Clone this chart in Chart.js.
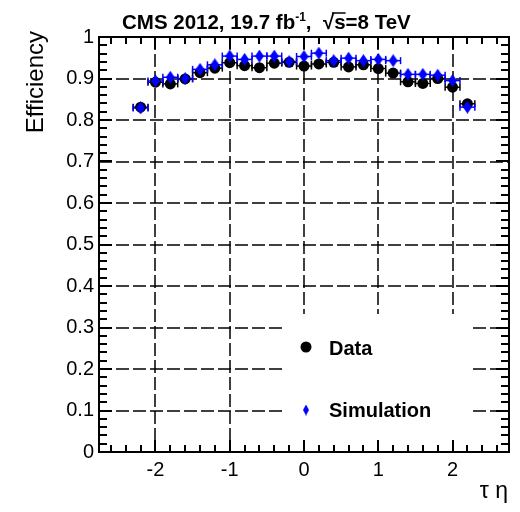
<!DOCTYPE html>
<html>
<head>
<meta charset="utf-8">
<script src="https://cdn.jsdelivr.net/npm/chart.js@4.4.1/dist/chart.umd.min.js"></script>
<style>
  html, body { margin: 0; padding: 0; background: #fff; }
  canvas { display: block; }
</style>
</head>
<body>
<canvas id="eff" width="520" height="512"></canvas>
<script>
// Tau identification efficiency versus tau pseudorapidity
const etaBins = [-2.2, -2.0, -1.8, -1.6, -1.4, -1.2, -1.0, -0.8, -0.6, -0.4, -0.2, 0.0,
                 0.2, 0.4, 0.6, 0.8, 1.0, 1.2, 1.4, 1.6, 1.8, 2.0, 2.2];
const etaHalfWidth = 0.1;

const dataEff = [0.831, 0.891, 0.887, 0.899, 0.914, 0.925, 0.938, 0.931, 0.926, 0.937, 0.939, 0.930,
                 0.935, 0.939, 0.928, 0.933, 0.924, 0.913, 0.892, 0.888, 0.900, 0.879, 0.839];
const dataErr = [0.005, 0.004, 0.004, 0.004, 0.004, 0.004, 0.004, 0.004, 0.004, 0.004, 0.004, 0.004,
                 0.004, 0.004, 0.004, 0.004, 0.004, 0.004, 0.004, 0.004, 0.004, 0.004, 0.005];

const simEff = [0.829, 0.894, 0.903, 0.900, 0.922, 0.933, 0.954, 0.946, 0.954, 0.954, 0.941, 0.953,
                0.961, 0.943, 0.949, 0.943, 0.946, 0.943, 0.910, 0.910, 0.908, 0.895, 0.831];
const simErr = [0.003, 0.002, 0.002, 0.002, 0.002, 0.002, 0.002, 0.002, 0.002, 0.002, 0.002, 0.002,
                0.002, 0.002, 0.002, 0.002, 0.002, 0.002, 0.002, 0.002, 0.002, 0.002, 0.003];

const xTickValues = [-2, -1, 0, 1, 2];
const yTickValues = [0, 0.1, 0.2, 0.3, 0.4, 0.5, 0.6, 0.7, 0.8, 0.9, 1];
const xMinorStep = 0.2;
const yMinorStep = 0.02;

const seriesNames = ['Data', 'Simulation'];
const titleParts = { main: 'CMS 2012, 19.7 fb', sup: '-1', energy: '=8 TeV' };
const yTitle = 'Efficiency';
const xTitle = 'τ η';

const FONT = '"Liberation Sans", Arial, Helvetica, sans-serif';
const BLUE = '#0000ff';

function diamond(w, h, color) {
  const c = document.createElement('canvas');
  c.width = w; c.height = h;
  const g = c.getContext('2d');
  g.fillStyle = color;
  g.beginPath();
  g.moveTo(w / 2, 0); g.lineTo(w, h / 2); g.lineTo(w / 2, h); g.lineTo(0, h / 2);
  g.closePath(); g.fill();
  return c;
}
const simMarker = diamond(9, 13, BLUE);
const simLegendMarker = diamond(6, 11, BLUE);

function line(ctx, x0, y0, x1, y1) {
  ctx.beginPath(); ctx.moveTo(x0, y0); ctx.lineTo(x1, y1); ctx.stroke();
}

// legend box area (pixels inside the frame)
const legendBox = { x0: 282, y0: 314, x1: 472, y1: 445 };

// inward tick marks on all four sides of the frame
function drawTicks(ctx, area, xs, ys) {
  const { left, right, top, bottom } = area;
  ctx.fillStyle = '#000';
  const nx = Math.round(2.6 / xMinorStep);
  for (let k = -nx; k <= nx; k++) {
    const px = Math.round(xs.getPixelForValue(k * xMinorStep));
    const len = (Math.abs(k) % 5 === 0) ? 12 : 7;
    ctx.fillRect(px - 1, bottom - len, 2, len);
    ctx.fillRect(px - 1, top, 2, len);
  }
  const ny = Math.round(1 / yMinorStep);
  for (let k = 0; k <= ny; k++) {
    const py = Math.round(ys.getPixelForValue(k * yMinorStep));
    const len = (k % 5 === 0) ? 13 : 8;
    ctx.fillRect(left, py - 1, len, 2);
    ctx.fillRect(right - len, py - 1, len, 2);
  }
}

const rootStyle = {
  id: 'rootStyle',
  beforeDatasetsDraw(chart) {
    const ctx = chart.ctx;
    const { left, right, top, bottom } = chart.chartArea;
    const xs = chart.scales.x, ys = chart.scales.y;
    ctx.save();
    // dashed grid at major ticks
    ctx.strokeStyle = '#000';
    ctx.lineWidth = 1.5;
    ctx.setLineDash([13, 4]);
    xTickValues.forEach(v => {
      const px = Math.round(xs.getPixelForValue(v));
      line(ctx, px, top, px, bottom);
    });
    yTickValues.forEach(v => {
      if (v <= 0 || v >= 1) return;
      const py = Math.round(ys.getPixelForValue(v));
      line(ctx, left, py, right, py);
    });
    ctx.setLineDash([]);
    // legend background
    ctx.fillStyle = '#fff';
    ctx.fillRect(legendBox.x0, legendBox.y0, legendBox.x1 - legendBox.x0, legendBox.y1 - legendBox.y0);

    // error bars with end caps
    const sets = [
      { vals: dataEff, errs: dataErr, color: '#000' },
      { vals: simEff, errs: simErr, color: BLUE }
    ];
    sets.forEach(s => {
      ctx.strokeStyle = s.color;
      ctx.lineWidth = 1.5;
      etaBins.forEach((eta, i) => {
        const xc = xs.getPixelForValue(eta);
        const x0 = xs.getPixelForValue(eta - etaHalfWidth);
        const x1 = xs.getPixelForValue(eta + etaHalfWidth);
        const yc = ys.getPixelForValue(s.vals[i]);
        const yt = ys.getPixelForValue(s.vals[i] + s.errs[i]);
        const yb = ys.getPixelForValue(s.vals[i] - s.errs[i]);
        line(ctx, x0, yc, x1, yc);
        line(ctx, x0, yc - 3.5, x0, yc + 3.5);
        line(ctx, x1, yc - 3.5, x1, yc + 3.5);
        line(ctx, xc, yt, xc, yb);
      });
    });
    drawTicks(ctx, chart.chartArea, xs, ys);
    ctx.restore();
  },
  afterDatasetsDraw(chart) {
    const ctx = chart.ctx;
    const { left, right, top, bottom } = chart.chartArea;
    ctx.save();
    ctx.setLineDash([]);
    ctx.strokeStyle = '#000';
    ctx.fillStyle = '#000';
    ctx.lineWidth = 2;
    ctx.strokeRect(left, top, right - left, bottom - top);

    // legend
    ctx.beginPath();
    ctx.arc(306, 347, 5.5, 0, Math.PI * 2);
    ctx.fill();
    ctx.drawImage(simLegendMarker, 306 - simLegendMarker.width / 2, 410 - simLegendMarker.height / 2);
    ctx.font = 'bold 20px ' + FONT;
    ctx.textBaseline = 'alphabetic';
    ctx.textAlign = 'left';
    ctx.fillText(seriesNames[0], 329, 355);
    ctx.fillText(seriesNames[1], 329, 417);

    // title
    let x = 122;
    const y = 29;
    const put = (s, font, dy) => {
      ctx.font = font;
      ctx.fillText(s, x, y + (dy || 0));
      x += ctx.measureText(s).width;
    };
    const big = 'bold 20.5px ' + FONT;
    put(titleParts.main, big);
    put(titleParts.sup, 'bold 12px ' + FONT, -8);
    put(',  ', big);
    const rootStart = x;
    put('√', big);
    put('s', big);
    ctx.lineWidth = 1.5;
    line(ctx, rootStart + 9, y - 16, x, y - 16);
    put(titleParts.energy, big);

    // axis titles
    ctx.font = '24px ' + FONT;
    ctx.save();
    ctx.translate(43, 31);
    ctx.rotate(-Math.PI / 2);
    ctx.textAlign = 'right';
    ctx.fillText(yTitle, 0, 0);
    ctx.restore();

    ctx.font = '23px ' + FONT;
    ctx.textAlign = 'right';
    ctx.fillText(xTitle, 508, 498);
    ctx.restore();
  }
};

new Chart(document.getElementById('eff'), {
  type: 'scatter',
  data: {
    datasets: [
      {
        label: seriesNames[0],
        data: etaBins.map((eta, i) => ({ x: eta, y: dataEff[i] })),
        pointStyle: 'circle',
        pointRadius: 5.5,
        pointHoverRadius: 5.5,
        backgroundColor: '#000',
        borderColor: '#000',
        borderWidth: 0,
        order: 2
      },
      {
        label: seriesNames[1],
        data: etaBins.map((eta, i) => ({ x: eta, y: simEff[i] })),
        pointStyle: simMarker,
        pointRadius: 6,
        backgroundColor: BLUE,
        borderColor: BLUE,
        borderWidth: 0,
        order: 1
      }
    ]
  },
  options: {
    responsive: false,
    animation: false,
    events: [],
    layout: { padding: { top: 37, right: 11, left: 0, bottom: 0 } },
    plugins: { legend: { display: false }, tooltip: { enabled: false }, title: { display: false } },
    scales: {
      x: {
        type: 'linear',
        min: -2.76,
        max: 2.76,
        grid: { display: false, drawTicks: false },
        border: { display: false },
        ticks: {
          font: { family: FONT, size: 20 },
          color: '#000',
          padding: 6,
          maxRotation: 0,
          autoSkip: false,
          callback: v => String(v)
        },
        afterBuildTicks: s => { s.ticks = xTickValues.map(v => ({ value: v })); },
        afterFit: s => { s.height = 60; }
      },
      y: {
        type: 'linear',
        min: 0,
        max: 1,
        grid: { display: false, drawTicks: false },
        border: { display: false },
        ticks: {
          font: { family: FONT, size: 20 },
          color: '#000',
          padding: 5,
          autoSkip: false,
          callback: v => (v === 0 || v === 1) ? String(v) : v.toFixed(1)
        },
        afterBuildTicks: s => { s.ticks = yTickValues.map(v => ({ value: v })); },
        afterFit: s => { s.width = 99; }
      }
    }
  },
  plugins: [rootStyle]
});
</script>
</body>
</html>
